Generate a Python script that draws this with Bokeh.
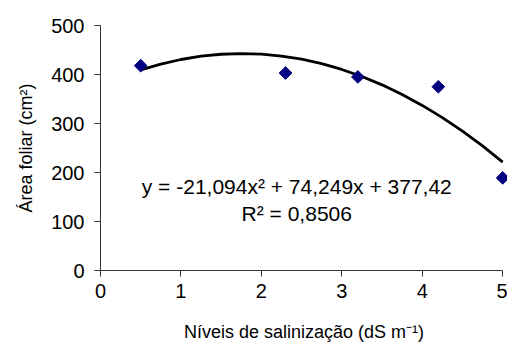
import math
from bokeh.plotting import figure
from bokeh.models import ColumnDataSource, FixedTicker, Range1d
from bokeh.core.properties import value
from bokeh.embed import file_html
from bokeh.resources import INLINE

# observed points
salinity = [0.5, 2.3, 3.2, 4.2, 5.0]
leaf_area = [418, 403, 395, 375, 189]

# polynomial trendline
trend_x = [0.5, 0.75, 1.0, 1.25, 1.5, 1.75, 2.0, 2.25, 2.5, 2.75, 3.0,
           3.25, 3.5, 3.75, 4.0, 4.25, 4.5, 4.75, 5.0]
trend_y = [409.3, 421.2, 430.6, 437.3, 441.3, 442.8, 441.5, 437.7, 431.2, 422.1, 410.3,
           395.9, 378.9, 359.2, 336.9, 312.0, 284.4, 254.2, 221.3]

x_ticks = [0, 1, 2, 3, 4, 5]
y_ticks = [0, 100, 200, 300, 400, 500]

eq_text = ["y = -21,094x² + 74,249x + 377,42", "R² = 0,8506"]
eq_x = [2.44, 2.44]
eq_y = [171, 116]

FONT = "Liberation Sans"

p = figure(width=507, height=344, output_backend="svg", toolbar_location=None,
           x_range=Range1d(0, 5.06), y_range=Range1d(0, 500),
           min_border_left=100, min_border_right=0, min_border_top=25, min_border_bottom=74)
p.outline_line_color = None
p.xgrid.visible = False
p.ygrid.visible = False

p.line(trend_x, trend_y, line_color="black", line_width=2.8)
p.scatter(salinity, leaf_area, marker="square", angle=math.pi / 4, size=9,
          fill_color="#000080", line_color="#000080")

src = ColumnDataSource(dict(x=eq_x, y=eq_y, t=eq_text))
p.text(x="x", y="y", text="t", source=src, text_font=value(FONT), text_font_size="21px",
       text_align="center", text_baseline="middle", text_color="black")

for ax, ticks in ((p.xaxis, x_ticks), (p.yaxis, y_ticks)):
    ax.ticker = FixedTicker(ticks=ticks)
    ax.minor_tick_line_color = None
    ax.major_tick_in = 0
    ax.major_tick_out = 6
    ax.axis_line_color = "#333333"
    ax.major_tick_line_color = "#333333"
    ax.major_label_text_font = FONT
    ax.major_label_text_font_size = "20px"
    ax.major_label_text_color = "black"
    ax.axis_label_text_font = FONT
    ax.axis_label_text_font_size = "18px"
    ax.axis_label_text_font_style = "normal"
    ax.axis_label_text_color = "black"

p.xaxis.bounds = (0, 5)
p.xaxis.axis_label = "Níveis de salinização (dS m⁻¹)"
p.yaxis.axis_label = "Área foliar (cm²)"
p.xaxis.major_label_standoff = 7
p.yaxis.major_label_standoff = 10
p.xaxis.axis_label_standoff = 21
p.yaxis.axis_label_standoff = 12

open("out.html", "w").write(file_html(p, INLINE))
